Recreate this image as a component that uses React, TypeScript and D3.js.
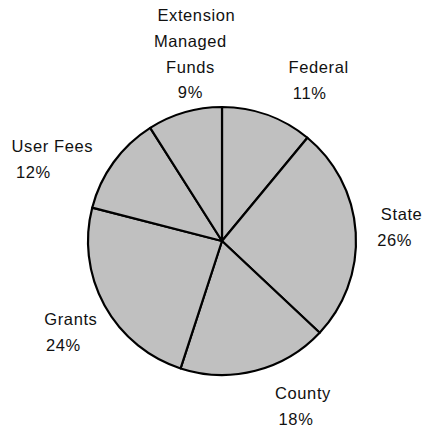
import * as d3 from 'd3';
import { useEffect, useRef } from 'react';

// funding sources, clockwise from 12 o'clock
const categories = ['Federal', 'State', 'County', 'Grants', 'User Fees', 'Extension Managed Funds'];
const shares = [11, 26, 18, 24, 12, 9];
// label text lines (name split as in the original)
const labelLines = [
  ['Federal'],
  ['State'],
  ['County'],
  ['Grants'],
  ['User Fees'],
  ['Extension', 'Managed', 'Funds'],
];

const width = 424;
const height = 428;
const cx = 222;
const cy = 241;
const radius = 134;
const labelRadius = 185;

// hand-tuned label nudges (x, y of first line relative to outer centroid) + shift of % line
const labelNudge: Record<string, { dx: number; dy: number; pct: number; lineDx?: number[] }> = {
  Federal: { dx: 34, dy: 6, pct: -9 },
  State: { dx: -5, dy: -9, pct: -7 },
  County: { dx: 35, dy: -21, pct: -7 },
  Grants: { dx: 11, dy: -5, pct: -7.5 },
  'User Fees': { dx: -20, dy: 20, pct: -19 },
  'Extension Managed Funds': { dx: 26, dy: -42, pct: -6, lineDx: [0, -6, -6] },
};

type Slice = { name: string; value: number; lines: string[] };

const data: Slice[] = categories.map((name, i) => ({
  name,
  value: shares[i],
  lines: labelLines[i],
}));

export default function App() {
  const ref = useRef<SVGSVGElement | null>(null);

  useEffect(() => {
    if (!ref.current) return;

    const svg = d3.select(ref.current);
    svg.selectAll('*').remove();

    const pie = d3
      .pie<Slice>()
      .sort(null)
      .value((d) => d.value);

    const arc = d3.arc<d3.PieArcDatum<Slice>>().innerRadius(0).outerRadius(radius);
    const labelArc = d3
      .arc<d3.PieArcDatum<Slice>>()
      .innerRadius(labelRadius)
      .outerRadius(labelRadius);

    const arcs = pie(data);

    const g = svg.append('g').attr('transform', `translate(${cx},${cy})`);

    g.selectAll('path')
      .data(arcs)
      .join('path')
      .attr('d', arc)
      .attr('fill', '#c0c0c0')
      .attr('stroke', '#000')
      .attr('stroke-width', 2.2)
      .attr('stroke-linejoin', 'round');

    const lineH = 25.7;

    g.selectAll('text')
      .data(arcs)
      .join('text')
      .attr('text-anchor', 'middle')
      .attr('font-family', '"Liberation Sans", Arial, sans-serif')
      .attr('font-size', 16.5)
      .attr('letter-spacing', 0.6)
      .attr('fill', '#111')
      .each(function (d) {
        const [x, y] = labelArc.centroid(d);
        const n = labelNudge[d.data.name];
        const t = d3.select(this);
        const lx = x + n.dx;
        const ly = y + n.dy;
        d.data.lines.forEach((line, i) => {
          t.append('tspan')
            .attr('x', lx + (n.lineDx ? n.lineDx[i] : 0))
            .attr('y', ly + i * lineH)
            .text(line);
        });
        t.append('tspan')
          .attr('x', lx + n.pct)
          .attr('y', ly + d.data.lines.length * lineH)
          .text(`${d.data.value}%`);
      });
  }, []);

  return (
    <svg
      ref={ref}
      width={width}
      height={height}
      style={{ position: 'absolute', left: 0, top: 0, background: '#fff' }}
    />
  );
}
